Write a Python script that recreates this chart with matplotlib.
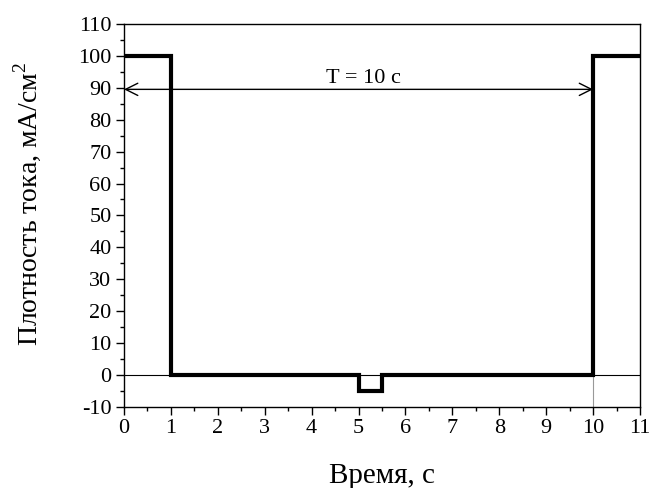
import matplotlib
matplotlib.use("Agg")
import matplotlib.pyplot as plt
from matplotlib.ticker import MultipleLocator

# Data
t_edges = [0, 1, 1, 5, 5, 5.5, 5.5, 10, 10, 11]
j_values = [100, 100, 0, 0, -5, -5, 0, 0, 100, 100]
period_start, period_end, arrow_y = 0, 10, 89.5
period_label = "T = 10 с"

plt.rcParams['font.family'] = ['Liberation Serif', 'DejaVu Serif']
plt.rcParams['mathtext.fontset'] = 'custom'
plt.rcParams['mathtext.rm'] = 'Liberation Serif'
plt.rcParams['axes.unicode_minus'] = False

fig = plt.figure(figsize=(6.5, 4.88), dpi=100)
ax = fig.add_axes([0.1908, 0.166, 0.7938, 0.785])

ax.axhline(0, color='black', lw=0.8, zorder=1)
ax.plot([10, 10], [-10, 0], color='#999999', lw=0.8, zorder=1)
ax.plot(t_edges, j_values, color='black', lw=3, solid_joinstyle='miter', zorder=3)

ax.annotate('', xy=(period_end, arrow_y), xytext=(period_start, arrow_y),
            arrowprops=dict(arrowstyle='<->', color='black', lw=1.0,
                            mutation_scale=22, shrinkA=0, shrinkB=0))
ax.text(5.1, 91.5, period_label, ha='center', va='baseline', fontsize=16)

ax.set_xlim(0, 11)
ax.set_ylim(-10, 110)
ax.xaxis.set_major_locator(MultipleLocator(1))
ax.xaxis.set_minor_locator(MultipleLocator(0.5))
ax.yaxis.set_major_locator(MultipleLocator(10))
ax.yaxis.set_minor_locator(MultipleLocator(5))
ax.tick_params(axis='both', which='major', direction='out', length=6, width=1,
               labelsize=16, top=False, right=False, pad=3)
ax.tick_params(axis='both', which='minor', direction='out', length=3, width=1,
               top=False, right=False)
for s in ax.spines.values():
    s.set_linewidth(1.0)

xl = ax.set_xlabel('Время, с', fontsize=21)
xl.set_va('baseline')
ax.xaxis.set_label_coords(0.5, -0.198)
yl = ax.set_ylabel('Плотность тока, мА/см$^2$', fontsize=20)
yl.set_va('center')
ax.yaxis.set_label_coords(-0.188, 0.53)

fig.savefig('out.png', dpi=100)
